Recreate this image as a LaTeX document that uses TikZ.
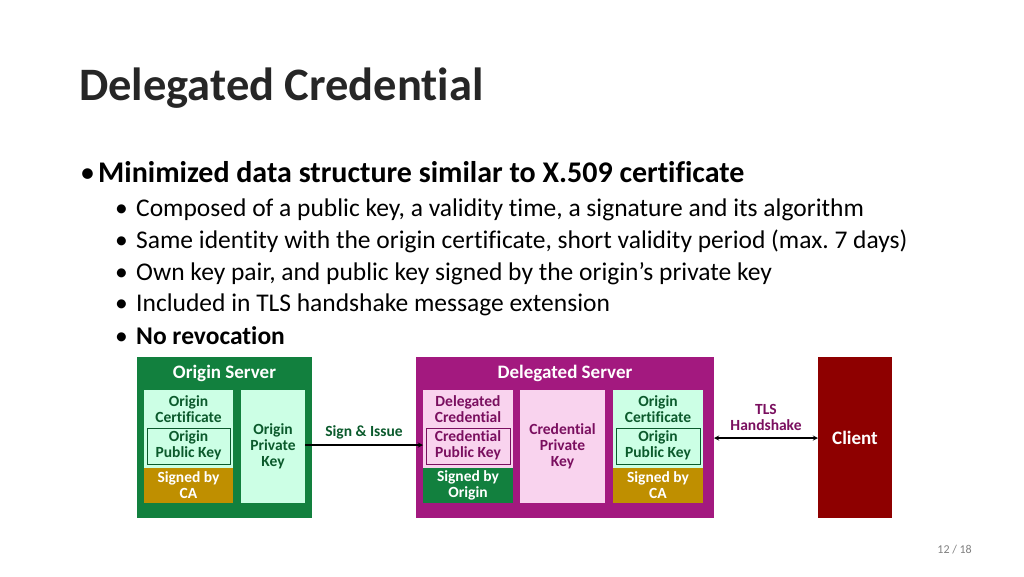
\documentclass[tikz,border=0pt]{standalone}
\usepackage{fontspec}
\setmainfont{Carlito}[Ligatures={NoCommon,TeX}]
\begin{document}
\begin{tikzpicture}[x=1pt,y=-1pt,
  lbl/.style={font=\bfseries\fontsize{15.5}{16}\selectfont,align=center,inner sep=0pt},
  big/.style={font=\bfseries\fontsize{19}{20}\selectfont,text=white,inner sep=0pt},
  sub/.style={font=\fontsize{25.5}{28}\selectfont,anchor=base west,inner sep=0pt}]
\definecolor{dg}{HTML}{12803E}
\definecolor{lg}{HTML}{CCFFE5}
\definecolor{tg}{HTML}{0B5A2C}
\definecolor{gold}{HTML}{BF8F00}
\definecolor{pu}{HTML}{A3197F}
\definecolor{lp}{HTML}{F9D3EE}
\definecolor{tp}{HTML}{7A0F5F}
\definecolor{dr}{HTML}{8E0000}
\useasboundingbox (0,0) rectangle (1024,576);
\node[anchor=base west,inner sep=0pt,font=\bfseries\fontsize{46.5}{50}\selectfont,text=black!85] (title) at (79,100) {Delegated Credential};
\node[anchor=base west,inner sep=0pt,font=\fontsize{30}{32}\selectfont] (bb0) at (80,182) {\textbullet};
\node[anchor=base west,inner sep=0pt,font=\bfseries\fontsize{30}{32}\selectfont] (b0) at (98,182) {Minimized data structure similar to X.509 certificate};
\foreach \y/\t [count=\i] in {216/{Composed of a public key, a validity time, a signature and its algorithm},
  248/{Same identity with the origin certificate, short validity period (max.~7 days)},
  280/{Own key pair, and public key signed by the origin’s private key},
  311/{Included in TLS handshake message extension},
  344/{\textbf{No revocation}}}{
  \node[sub] (d\i) at (115,\y) {\textbullet};
  \node[sub] (b\i) at (136,\y) {\t};
}
% origin server
\fill[dg] (137,357) rectangle (312,518);
\node[big] (os) at (224.5,373) {Origin Server};
\fill[lg] (144,390) rectangle (233,468);
\draw[tg,line width=0.8pt] (147,428) rectangle (230,464);
\fill[gold] (144,468) rectangle (233,503);
\fill[lg] (241,390) rectangle (305,503);
\node[lbl,text=tg] (oc1) at (188.5,409) {Origin\\Certificate};
\node[lbl,text=tg] (opk1) at (188.5,445.5) {Origin\\Public Key};
\node[lbl,text=white] (sca1) at (188.5,485.5) {Signed by\\CA};
\node[lbl,text=tg] (opriv) at (273,446) {Origin\\Private\\Key};
% delegated server
\fill[pu] (416,357) rectangle (714,518);
\node[big] (ds) at (565,373) {Delegated Server};
\fill[lp] (423,390) rectangle (513,468);
\draw[tp,line width=0.8pt] (426,428) rectangle (510,464);
\fill[dg] (423,468) rectangle (513,503);
\fill[lp] (520,390) rectangle (605,503);
\node[lbl,text=tp] (dc) at (468,409) {Delegated\\Credential};
\node[lbl,text=tp] (cpk) at (468,445.5) {Credential\\Public Key};
\node[lbl,text=white] (sbo) at (468,485.5) {Signed by\\Origin};
\node[lbl,text=tp] (cpriv) at (562.5,446) {Credential\\Private\\Key};
\fill[lg] (613,390) rectangle (703,468);
\draw[tg,line width=0.8pt] (616,428) rectangle (700,464);
\fill[gold] (613,468) rectangle (703,503);
\node[lbl,text=tg] (oc2) at (658,409) {Origin\\Certificate};
\node[lbl,text=tg] (opk2) at (658,445.5) {Origin\\Public Key};
\node[lbl,text=white] (sca2) at (658,485.5) {Signed by\\CA};
% client
\fill[dr] (818,357) rectangle (892,518);
\node[big] (cl) at (855,438) {Client};
% arrows
\coordinate (a1) at (305,445);
\coordinate (a2) at (423,445);
\draw[line width=1.3pt,-stealth] (a1) -- (a2) node[midway,above=5pt,lbl,text=tg] (si) {Sign \& Issue};
\coordinate (t1) at (714,438);
\coordinate (t2) at (818,438);
\draw[line width=1.3pt,stealth-stealth] (t1) -- (t2) node[midway,above=7pt,lbl,text=tp] (tls) {TLS\\Handshake};
\node[anchor=base east,inner sep=0pt,font=\fontsize{12}{13}\selectfont,text=black!50] (pg) at (972,553) {12 / 18};
\end{tikzpicture}
\end{document}
